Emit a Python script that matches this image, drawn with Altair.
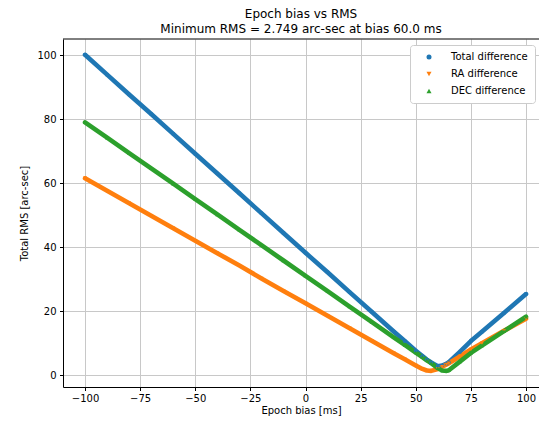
import altair as alt
import pandas as pd

# ---- data ----
bias_ms = [-100, -90, -80, -70, -60, -50, -40, -30, -20, -10, 0, 10, 20, 30, 40,
           45, 50, 53, 55, 57, 60, 62, 64, 65, 70, 75, 80, 90, 100]
total_diff = [100.1, 93.9, 87.7, 81.6, 75.4, 69.2, 63.0, 56.8, 50.6, 44.4, 38.2, 32.1, 25.9, 19.8, 13.6,
              10.6, 7.6, 5.9, 4.8, 3.9, 2.75, 2.95, 3.55, 4.0, 7.2, 10.6, 13.5, 19.4, 25.3]
ra_diff = [61.5, 57.6, 53.7, 49.8, 45.9, 42.0, 38.1, 34.2, 30.2, 26.3, 22.4, 18.5, 14.6, 10.7, 6.8,
           4.9, 3.0, 1.9, 1.4, 1.3, 1.9, 2.6, 3.3, 3.7, 5.8, 8.0, 9.9, 13.8, 17.6]
dec_diff = [79.0, 74.2, 69.4, 64.6, 59.8, 55.0, 50.2, 45.4, 40.6, 35.8, 31.0, 26.2, 21.4, 16.6, 11.8,
            9.4, 7.0, 5.6, 4.6, 3.7, 2.1, 1.4, 1.3, 1.5, 4.2, 6.9, 9.2, 13.7, 18.2]

series_names = ["Total difference", "RA difference", "DEC difference"]
series_colors = ["#1f77b4", "#ff7f0e", "#2ca02c"]
series_shapes = ["circle", "triangle-down", "triangle-up"]
x_ticks = [-100, -75, -50, -25, 0, 25, 50, 75, 100]
y_ticks = [0, 20, 40, 60, 80, 100]

rows = []
for name, vals in zip(series_names, [total_diff, ra_diff, dec_diff]):
    for b, v in zip(bias_ms, vals):
        rows.append({"bias": b, "rms": v, "series": name})
df = pd.DataFrame(rows)

W, H = 476, 348
FONT = "DejaVu Sans"

x_enc = alt.X("bias:Q",
              scale=alt.Scale(domain=[-110, 105.9], nice=False, zero=False),
              axis=alt.Axis(values=x_ticks, title="Epoch bias [ms]", tickSize=3.5,
                            labelPadding=3, titlePadding=2))
y_enc = alt.Y("rms:Q",
              scale=alt.Scale(domain=[-3.75, 105.05], nice=False, zero=False),
              axis=alt.Axis(values=y_ticks, title="Total RMS [arc-sec]", tickSize=3.5,
                            labelPadding=3.5, titlePadding=7))
color_scale = alt.Scale(domain=series_names, range=series_colors)
shape_scale = alt.Scale(domain=series_names, range=series_shapes)

base = alt.Chart(df)

line_layers = []
for name, col in zip(series_names, series_colors):
    line_layers.append(
        base.transform_filter(alt.datum.series == name)
        .mark_line(strokeWidth=4.6, strokeCap="round", strokeJoin="round")
        .encode(x=x_enc, y=y_enc, color=alt.value(col))
    )

legend = alt.Legend(title=None, orient="none", legendX=347, legendY=6,
                    labelFont=FONT, labelFontSize=10, labelColor="black",
                    symbolSize=25, symbolOffset=7, labelOffset=17, rowPadding=7,
                    padding=7, fillColor="white", strokeColor="#cccccc",
                    cornerRadius=3, symbolStrokeWidth=0)

points = base.mark_point(filled=True, size=16, opacity=1).encode(
    x=x_enc, y=y_enc,
    color=alt.Color("series:N", scale=color_scale, legend=legend),
    shape=alt.Shape("series:N", scale=shape_scale, legend=legend),
)

top_spine = alt.Chart(pd.DataFrame({"a": [0]})).mark_rule(color="black", strokeWidth=1).encode(
    x=alt.value(0), x2=alt.value(W), y=alt.value(0))

chart = alt.layer(*line_layers, points, top_spine).properties(
    width=W, height=H,
    autosize=alt.AutoSizeParams(type="none"),
    padding={"left": 55, "top": 31, "right": 0, "bottom": 30},
    title=alt.Title(["Epoch bias vs RMS", "Minimum RMS = 2.749 arc-sec at bias 60.0 ms"],
                    fontSize=12, font=FONT, fontWeight="normal", color="black",
                    lineHeight=15, offset=3, anchor="middle"),
).configure_view(stroke=None).configure_axis(
    labelFont=FONT, labelFontSize=10, labelColor="black",
    titleFont=FONT, titleFontSize=10, titleFontWeight="normal", titleColor="black",
    domainColor="black", domainWidth=1, tickColor="black", tickWidth=1,
    gridColor="#c8c8c8", gridWidth=1,
)

chart.save("out.html", embed_options={"renderer": "svg", "actions": False})
